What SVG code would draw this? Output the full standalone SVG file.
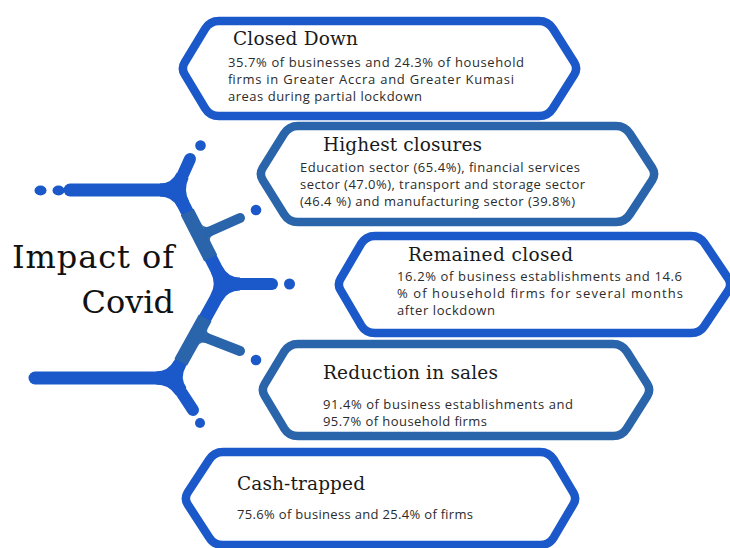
<svg xmlns="http://www.w3.org/2000/svg" width="730" height="548" viewBox="0 0 730 548">
<style>
.bx{fill:#fff;stroke-width:8.5;stroke-linejoin:round}
.br{stroke:#1b58c9}
.st{stroke:#2a64aa}
.hd{font-family:"DejaVu Serif","Liberation Serif",serif;font-size:18.5px;fill:#1a1a1a}
.bd{font-family:"Open Sans","Noto Sans","Liberation Sans",sans-serif;font-size:13px;fill:#2b2b2b}
.ttl{font-family:"DejaVu Serif","Liberation Serif",serif;font-size:32px;fill:#111}
.arm{fill:none;stroke-linecap:round}
.fb{fill:#1b58c9}
.fs{fill:#2a64aa}
</style>
<rect width="730" height="548" fill="#fff"/>
<g id="connectors">
  <path class="arm br" stroke-width="13" d="M70,190 L176,190"/>
  <path class="arm br" stroke-width="12" d="M176,190 L190,159"/>
  <path class="arm br" stroke-width="13" stroke-linejoin="round" d="M176,190 L224,284 L172,378"/>
  <path class="arm br" stroke-width="12" d="M224,284 L272,284"/>
  <path class="arm br" stroke-width="13" d="M35,378 L172,378"/>
  <path class="arm br" stroke-width="12" d="M172,378 L193,410"/>
  <path class="fb" d="M160,183.5 Q171.8,183.5 176.75,172.76 L188.57,178.16 Q183.2,189.85 189.07,201.3 L177.49,207.22 Q172,196.5 160,196.5 Z"/>
  <path class="fb" d="M222.51,266.78 Q227.98,277.5 240,277.5 L240,290.5 Q227.83,290.49 221.95,301.15 L210.57,294.85 Q216.64,283.87 210.93,272.7 Z"/>
  <path class="fb" d="M156,371.5 Q168.17,371.51 174.05,360.85 L185.43,367.15 Q179.63,377.64 186.43,387.51 L175.71,394.89 Q168.59,384.5 156,384.5 Z"/>
  <path fill="none" class="st" stroke-width="14.5" d="M187.2,212 L210.7,258"/>
  <path fill="none" class="st" stroke-width="14.5" d="M205.2,318 L180.8,362"/>
  <path class="arm st" stroke-width="10" d="M199.5,236 L240,218"/>
  <path class="arm st" stroke-width="10" d="M196.3,334 L240,351"/>
  <path class="fs" d="M200.28,222.12 Q203.59,228.61 208.31,226.44 L212.49,235.52 Q208.14,237.52 211.2,243.5 Z"/>
  <path class="fs" d="M208.24,326.89 Q205.34,332.12 209.3,333.65 L205.7,342.99 Q200.45,340.97 196.62,347.89 Z"/>
  <ellipse class="fb" cx="40.5" cy="190.5" rx="6" ry="5"/>
  <ellipse class="fb" cx="58.5" cy="190.5" rx="6" ry="5"/>
  <circle class="fb" cx="200.5" cy="145.5" r="5.3"/>
  <circle class="fb" cx="256" cy="210" r="5.3"/>
  <circle class="fb" cx="289.5" cy="284" r="5.5"/>
  <circle class="fb" cx="256" cy="360" r="5.3"/>
  <circle class="fb" cx="200" cy="423" r="5"/>
</g>
<g id="title">
  <text class="ttl" x="12" y="268" textLength="162">Impact of</text>
  <text class="ttl" x="174" y="313" text-anchor="end">Covid</text>
</g>
<g id="closed-down">
  <path class="bx br" d="M219,21 L539,21 Q548,21 552.8,28.6 L574.3,62.6 Q578,68.5 574.3,74.4 L552.8,108.4 Q548,116 539,116 L219,116 Q210,116 205.2,108.4 L184.7,74.4 Q181,68.5 184.7,62.6 L205.2,28.6 Q210,21 219,21 Z"/>
  <text class="hd" x="233" y="45" textLength="125">Closed Down</text>
  <text class="bd" x="228" y="67" textLength="296">35.7% of businesses and 24.3% of household</text>
  <text class="bd" x="228" y="84" textLength="286">firms in Greater Accra and Greater Kumasi</text>
  <text class="bd" x="228" y="101" textLength="194">areas  during partial lockdown</text>
</g>
<g id="highest-closures">
  <path class="bx st" d="M298,126 L616,126 Q625,126 629.8,133.6 L652.3,168.1 Q656,174 652.3,179.9 L629.8,214.4 Q625,222 616,222 L298,222 Q289,222 284.2,214.4 L262.7,179.9 Q259,174 262.7,168.1 L284.2,133.6 Q289,126 298,126 Z"/>
  <text class="hd" x="323" y="151" textLength="159">Highest closures</text>
  <text class="bd" x="300" y="172" textLength="280">Education sector (65.4%), financial services</text>
  <text class="bd" x="300" y="189" textLength="285">sector (47.0%), transport and storage sector</text>
  <text class="bd" x="300" y="206" textLength="275">(46.4 %) and manufacturing sector (39.8%)</text>
</g>
<g id="remained-closed">
  <path class="bx br" d="M375,236 L691,236 Q700,236 704.8,243.6 L728.3,278.6 Q732,284.5 728.3,290.4 L704.8,325.4 Q700,333 691,333 L375,333 Q366,333 361.2,325.4 L340.7,290.4 Q337,284.5 340.7,278.6 L361.2,243.6 Q366,236 375,236 Z"/>
  <text class="hd" x="408" y="261" textLength="165">Remained closed</text>
  <text class="bd" x="397" y="281" textLength="285">16.2% of business establishments and 14.6</text>
  <text class="bd" x="397" y="298" textLength="286">% of household firms for several months</text>
  <text class="bd" x="397" y="315" textLength="98">after lockdown</text>
</g>
<g id="reduction-in-sales">
  <path class="bx st" d="M298,344 L613,344 Q622,344 626.8,351.6 L647.3,384.1 Q651,390 647.3,395.9 L626.8,428.4 Q622,436 613,436 L298,436 Q289,436 284.2,428.4 L264.7,395.9 Q261,390 264.7,384.1 L284.2,351.6 Q289,344 298,344 Z"/>
  <text class="hd" x="323" y="379" textLength="175">Reduction in sales</text>
  <text class="bd" x="323" y="409" textLength="250">91.4% of business establishments and</text>
  <text class="bd" x="323" y="425.5" textLength="164">95.7% of household firms</text>
</g>
<g id="cash-trapped">
  <path class="bx br" d="M223,452 L540,452 Q549,452 553.8,459.6 L573.3,492.6 Q577,498.5 573.3,504.4 L553.8,537.4 Q549,545 540,545 L223,545 Q214,545 209.2,537.4 L187.7,504.4 Q184,498.5 187.7,492.6 L209.2,459.6 Q214,452 223,452 Z"/>
  <text class="hd" x="237" y="490" textLength="128">Cash-trapped</text>
  <text class="bd" x="237" y="519" textLength="236">75.6% of business and 25.4% of firms</text>
</g>
</svg>
